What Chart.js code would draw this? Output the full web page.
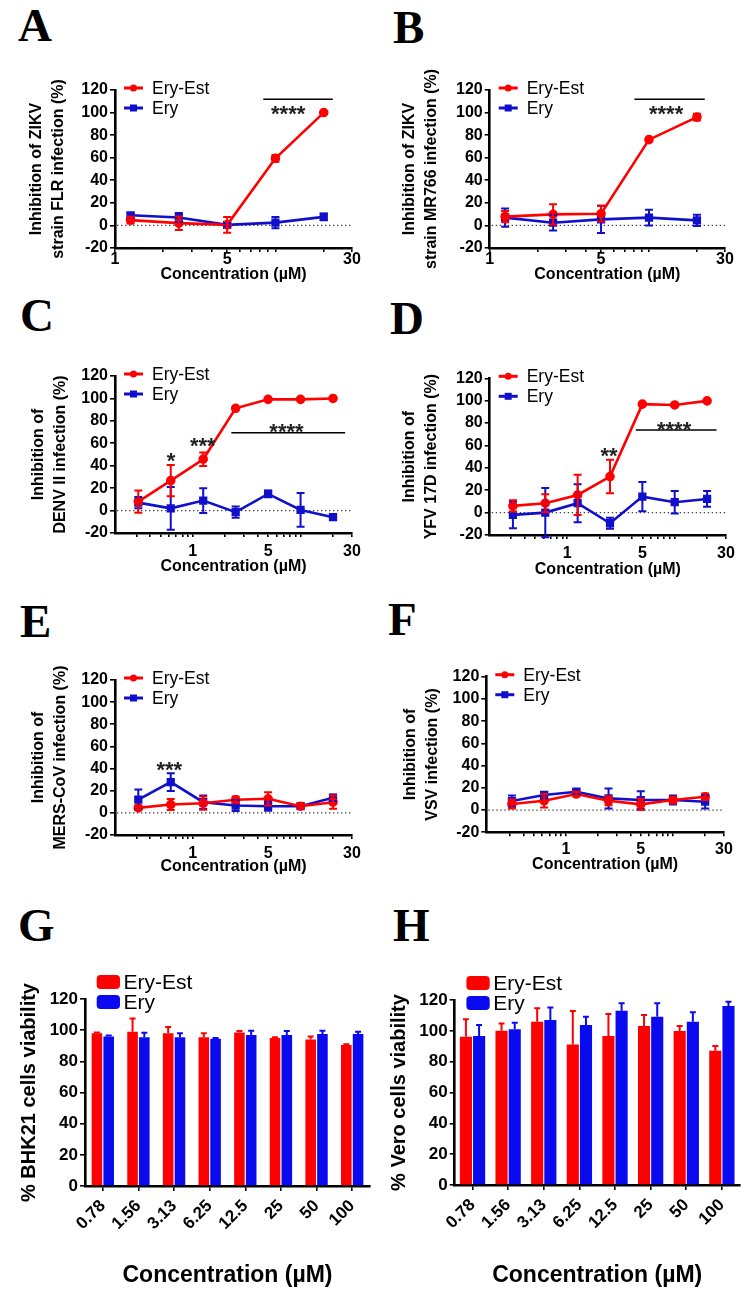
<!DOCTYPE html>
<html><head><meta charset="utf-8">
<script src="https://cdn.jsdelivr.net/npm/chart.js@4.4.0/dist/chart.umd.min.js"></script>
<style>
html,body{margin:0;padding:0;background:#fff;}
body{width:756px;height:1301px;position:relative;overflow:hidden;}
.cell{position:absolute;}
.letter{position:absolute;font-family:"Liberation Serif","Times New Roman",serif;font-weight:bold;font-size:47px;line-height:1;color:#000;}
</style></head><body>
<div class="letter" style="left:18px;top:2px">A</div>
<div class="letter" style="left:393px;top:4px">B</div>
<div class="letter" style="left:20px;top:292px">C</div>
<div class="letter" style="left:390px;top:295px">D</div>
<div class="letter" style="left:20px;top:598px">E</div>
<div class="letter" style="left:388px;top:596px">F</div>
<div class="letter" style="left:18px;top:902px">G</div>
<div class="letter" style="left:393px;top:902px">H</div>
<script>
// ---------- data ----------
const seriesNames = ['Ery-Est', 'Ery'];
const concAB = [1.25, 2.5, 5, 10, 20];
const concCF = [0.3125, 0.625, 1.25, 2.5, 5, 10, 20];
const xTicksAB = [1, 2, 3, 4, 5, 6, 7, 8, 9, 10, 20, 30];
const xTicksCF = [0.3, 0.4, 0.5, 0.6, 0.7, 0.8, 0.9, 1, 2, 3, 4, 5, 6, 7, 8, 9, 10, 20, 30];
const xLabelValues = [1, 5, 30];
const viabilityConc = ['0.78', '1.56', '3.13', '6.25', '12.5', '25', '50', '100'];

// A: ZIKV FLR
const zikvFlrEryEst = [4.7, 2.0, 0.5, 59.5, 100.0];
const zikvFlrEryEstSem = [3, 6, 7, 3, 0.8];
const zikvFlrEry = [9.0, 7.0, 0.5, 2.5, 7.6];
const zikvFlrErySem = [2, 4, 1.5, 5, 3];
// B: ZIKV MR766
const zikvMrEryEst = [7.8, 9.8, 10.4, 76.0, 96.0];
const zikvMrEryEstSem = [5, 9, 7, 1, 3];
const zikvMrEry = [6.9, 2.4, 5.4, 6.9, 4.5];
const zikvMrErySem = [8, 7, 12, 7, 5];
// C: DENV II
const denvEryEst = [8.0, 26.7, 45.8, 91.2, 99.2, 99.2, 100.0];
const denvEryEstSem = [10, 14, 6, 0.5, 0.5, 0.5, 0.5];
const denvEry = [7.1, 2.0, 8.9, -1.4, 14.9, 0.6, -5.9];
const denvErySem = [5, 19, 11, 5, 3, 15, 1];
// D: YFV 17D
const yfvEryEst = [6.0, 8.4, 15.8, 32.2, 96.9, 96.2, 99.8];
const yfvEryEstSem = [5, 8, 18, 15, 0.5, 0.5, 0.5];
const yfvEry = [-2.0, 0.0, 8.4, -9.5, 14.3, 9.3, 12.2];
const yfvErySem = [12, 22, 17, 5, 13, 10, 7];
// E: MERS-CoV
const mersEryEst = [4.5, 7.5, 8.7, 11.8, 12.7, 6.0, 9.6];
const mersEryEstSem = [2, 5, 6, 3, 6, 1, 6];
const mersEry = [12.0, 27.8, 9.6, 6.6, 6.0, 6.0, 13.6];
const mersErySem = [9, 8, 6, 5, 4, 1, 3];
// F: VSV
const vsvEryEst = [5.4, 8.4, 14.4, 8.4, 5.1, 9.0, 12.0];
const vsvEryEstSem = [4, 6, 2, 4, 5, 3, 3];
const vsvEry = [8.1, 13.5, 16.5, 10.5, 9.0, 9.0, 7.5];
const vsvErySem = [5, 3, 2, 9, 8, 4, 6];
// G: BHK21 viability
const bhkEryEst = [98, 99, 98, 95.4, 98.5, 95, 94, 90.5];
const bhkEryEstSem = [0.5, 8.5, 4, 2.6, 1, 0.5, 2, 0.5];
const bhkEry = [96, 95.4, 95.4, 94.5, 96.9, 96.9, 97.5, 97.5];
const bhkErySem = [0.5, 3, 2.6, 0.5, 2.7, 2.5, 2.1, 1.5];
// H: Vero viability
const veroEryEst = [96.2, 100, 105.9, 91.2, 96.6, 103.1, 99.9, 87.1];
const veroEryEstSem = [11.3, 4.8, 8.7, 21.7, 14.3, 7.2, 3.2, 3.1];
const veroEry = [96.6, 101, 107, 103.8, 113.1, 109.2, 105.9, 116.1];
const veroErySem = [7.2, 4.3, 8.2, 5.4, 4.8, 8.7, 6.1, 2.8];

// significance annotations: [x1, x2, y] lines and [x, y, text] stars (data units)
const sigLinesA = [[8.4, 22.8, 111.8]];
const starsA = [[12.0, 103.8, '****']];
const sigLinesB = [[8.1, 22.4, 111.8]];
const starsB = [[12.8, 103.8, '****']];
const sigLinesC = [[2.28, 25.9, 69.4]];
const starsC = [[7.4, 74.8, '****'], [1.24, 62.3, '***'], [0.63, 48.9, '*']];
const sigLinesD = [[4.34, 24.5, 73.8]];
const starsD = [[9.87, 79.2, '****'], [2.45, 55.9, '**']];
const starsE = [[0.605, 44.1, '***']];

// ---------- rendering ----------
Chart.defaults.font.family = "'Liberation Sans', Arial, Helvetica, sans-serif";
Chart.defaults.color = '#000';
const RED = '#ff0000', BLUE = '#1010cc', BLUE_BAR = '#0a0af0';

const extras = {
  id: 'extras',
  beforeDatasetsDraw(chart, args, o) {
    if (!o.zeroLine) return;
    const {ctx, chartArea: a} = chart;
    const y = chart.scales.y.getPixelForValue(0);
    ctx.save();
    ctx.strokeStyle = '#444'; ctx.lineWidth = 1.3; ctx.setLineDash([1.4, 2.6]);
    ctx.beginPath(); ctx.moveTo(a.left + 2, y); ctx.lineTo(a.right, y); ctx.stroke();
    ctx.restore();
  },
  afterDatasetsDraw(chart, args, o) {
    const ctx = chart.ctx, ys = chart.scales.y;
    ctx.save();
    for (let i = chart.data.datasets.length - 1; i >= 0; i--) {
      const ds = chart.data.datasets[i];
      const meta = chart.getDatasetMeta(i);
      ctx.strokeStyle = ds.borderColor || ds.backgroundColor;
      ctx.lineWidth = o.errWidth;
      meta.data.forEach((el, j) => {
        const raw = ds.data[j];
        const v = (typeof raw === 'object') ? raw.y : raw;
        const e = ds.err[j];
        const x = el.x;
        const yTop = ys.getPixelForValue(v + e);
        const yBot = o.upOnly ? ys.getPixelForValue(v) : ys.getPixelForValue(v - e);
        ctx.beginPath();
        ctx.moveTo(x, yTop); ctx.lineTo(x, yBot);
        ctx.moveTo(x - o.cap, yTop); ctx.lineTo(x + o.cap, yTop);
        if (!o.upOnly) { ctx.moveTo(x - o.cap, yBot); ctx.lineTo(x + o.cap, yBot); }
        ctx.stroke();
      });
    }
    ctx.restore();
  },
  afterDraw(chart, args, o) {
    const {ctx, chartArea: a} = chart;
    const xs = chart.scales.x, ys = chart.scales.y;
    ctx.save();
    // legend
    const g = o.legend;
    chart.data.datasets.forEach((ds, k) => {
      const color = ds.legendColor;
      const y = a.top + g.y[k];
      if (g.type === 'line') {
        ctx.strokeStyle = color; ctx.fillStyle = color; ctx.lineWidth = 3;
        ctx.beginPath(); ctx.moveTo(a.left + g.x0, y); ctx.lineTo(a.left + g.x1, y); ctx.stroke();
        const cx = a.left + (g.x0 + g.x1) / 2;
        if (ds.pointStyle === 'rect') { ctx.fillRect(cx - 3.5, y - 3.5, 7, 7); }
        else { ctx.beginPath(); ctx.arc(cx, y, 3.5, 0, Math.PI * 2); ctx.fill(); }
      } else {
        ctx.fillStyle = color;
        ctx.beginPath();
        ctx.roundRect(a.left + g.x0, y - g.h / 2, g.x1 - g.x0, g.h, 4);
        ctx.fill();
      }
      ctx.fillStyle = '#000';
      ctx.font = g.font;
      ctx.textAlign = 'left'; ctx.textBaseline = 'middle';
      ctx.fillText(ds.label, a.left + g.tx, y + 1);
    });
    // significance
    ctx.strokeStyle = '#000'; ctx.lineWidth = 1.5;
    (o.sigLines || []).forEach(([x1, x2, y]) => {
      const py = ys.getPixelForValue(y);
      ctx.beginPath(); ctx.moveTo(xs.getPixelForValue(x1), py); ctx.lineTo(xs.getPixelForValue(x2), py); ctx.stroke();
    });
    ctx.fillStyle = '#222';
    ctx.font = "bold 22px 'Liberation Sans', Arial, sans-serif";
    ctx.textAlign = 'center'; ctx.textBaseline = 'alphabetic';
    (o.stars || []).forEach(([x, y, t]) => {
      ctx.fillText(t, xs.getPixelForValue(x), ys.getPixelForValue(y) + 12.6);
    });
    ctx.restore();
  }
};

function makeCanvas(cell) {
  const d = document.createElement('div');
  d.className = 'cell';
  Object.assign(d.style, {left: cell.x + 'px', top: cell.y + 'px', width: cell.w + 'px', height: cell.h + 'px'});
  const c = document.createElement('canvas');
  c.width = cell.w; c.height = cell.h;
  c.style.width = cell.w + 'px'; c.style.height = cell.h + 'px';
  d.appendChild(c); document.body.appendChild(d);
  return c;
}

function axisCommon() {
  return {
    grid: {display: true, drawOnChartArea: false, drawTicks: true, tickLength: 5, color: '#000', lineWidth: 1.6},
    border: {display: true, color: '#000', width: 2.6}
  };
}

function linePanel(p) {
  const cv = makeCanvas(p.cell);
  const yW = p.area.L - p.cell.x;
  const xH = p.cell.y + p.cell.h - p.area.B;
  const yLH = 22;
  const mk = (vals) => p.conc.map((c, i) => ({x: c, y: vals[i]}));
  new Chart(cv, {
    type: 'line',
    data: {datasets: [
      {label: seriesNames[0], data: mk(p.red), err: p.redErr, borderColor: RED, backgroundColor: RED, legendColor: RED,
       borderWidth: 2.6, pointRadius: 3.5, pointStyle: 'circle', pointBackgroundColor: RED, pointBorderColor: RED, tension: 0},
      {label: seriesNames[1], data: mk(p.blue), err: p.blueErr, borderColor: BLUE, backgroundColor: BLUE, legendColor: BLUE,
       borderWidth: 2.6, pointRadius: 4, pointStyle: 'rect', pointBackgroundColor: BLUE, pointBorderColor: BLUE, tension: 0}
    ]},
    options: {
      responsive: false, animation: false, devicePixelRatio: 1,
      layout: {padding: {left: 0, top: p.area.T - p.cell.y, right: p.cell.x + p.cell.w - p.area.R, bottom: 0}},
      plugins: {
        legend: {display: false}, tooltip: {enabled: false},
        extras: {zeroLine: true, errWidth: 2, cap: 4, upOnly: false,
          legend: {type: 'line', x0: 9, x1: 28, tx: 37, y: [-2, 18], font: "17.5px 'Liberation Sans', Arial, sans-serif"},
          sigLines: p.sigLines, stars: p.stars}
      },
      scales: {
        x: Object.assign(axisCommon(), {
          type: 'logarithmic', min: p.xMin, max: p.xMax, position: 'bottom',
          afterBuildTicks: s => { s.ticks = p.xTicks.map(v => ({value: v})); },
          afterFit: s => { s.height = xH; },
          ticks: {autoSkip: false, maxRotation: 0, minRotation: 0, font: {size: 16, weight: 'bold', lineHeight: 1},
            padding: p.xTickY - p.area.B - 4 - 8,
            callback: v => xLabelValues.includes(v) ? String(v) : ''},
          grid: {display: true, drawOnChartArea: false, drawTicks: true, tickLength: 4, color: '#000', lineWidth: 1.6},
          title: {display: true, text: 'Concentration (µM)', font: {size: 16, weight: 'bold', lineHeight: 1.2},
            padding: {top: 0, bottom: p.cell.h - (p.xTitleY - p.cell.y) - 9.6}}
        }),
        y: Object.assign(axisCommon(), {
          type: 'linear', min: -20, max: 120, position: 'left',
          afterFit: s => { s.width = yW; },
          ticks: {stepSize: 20, autoSkip: false, font: {size: 16, weight: 'bold', lineHeight: 1}, padding: 2},
          title: {display: true, text: p.yTitle, font: {size: 16, weight: 'bold', lineHeight: yLH / 16},
            padding: {top: p.yTitleX - p.cell.x - yLH / 2, bottom: 0}}
        })
      }
    },
    plugins: [extras]
  });
}

function barPanel(p) {
  const cv = makeCanvas(p.cell);
  const yW = p.area.L - p.cell.x;
  const xH = p.cell.y + p.cell.h - p.area.B;
  new Chart(cv, {
    type: 'bar',
    data: {labels: viabilityConc, datasets: [
      {label: seriesNames[0], data: p.red, err: p.redErr, backgroundColor: RED, legendColor: RED, borderWidth: 0,
       barPercentage: p.barPct, categoryPercentage: p.catPct},
      {label: seriesNames[1], data: p.blue, err: p.blueErr, backgroundColor: BLUE_BAR, legendColor: BLUE_BAR, borderWidth: 0,
       barPercentage: p.barPct, categoryPercentage: p.catPct}
    ]},
    options: {
      responsive: false, animation: false, devicePixelRatio: 1,
      layout: {padding: {left: 0, top: p.area.T - p.cell.y, right: p.cell.x + p.cell.w - p.area.R, bottom: 0}},
      plugins: {
        legend: {display: false}, tooltip: {enabled: false},
        extras: {zeroLine: false, errWidth: 2, cap: 3, upOnly: true,
          legend: {type: 'box', x0: 11.7, x1: 35, h: 14, tx: 38.5, y: [-17, 3], font: "21px 'Liberation Sans', Arial, sans-serif"}}
      },
      scales: {
        x: Object.assign(axisCommon(), {
          type: 'category', position: 'bottom',
          afterFit: s => { s.height = xH; },
          ticks: {autoSkip: false, maxRotation: 45, minRotation: 45, font: {size: 17, weight: 'bold'}, padding: 5},
          grid: {display: true, offset: false, drawOnChartArea: false, drawTicks: true, tickLength: 5, color: '#000', lineWidth: 1.6},
          title: {display: true, text: 'Concentration (µM)', font: {size: 23, weight: 'bold', lineHeight: 1.2},
            padding: {top: 0, bottom: p.cell.h - (p.xTitleY - p.cell.y) - 13.8}}
        }),
        y: Object.assign(axisCommon(), {
          type: 'linear', min: 0, max: 120, position: 'left',
          afterFit: s => { s.width = yW; },
          ticks: {stepSize: 20, autoSkip: false, font: {size: 17, weight: 'bold'}, padding: 2},
          title: {display: true, text: p.yTitle, font: {size: 20, weight: 'bold', lineHeight: 1.2},
            padding: {top: p.yTitleX - p.cell.x - 12, bottom: 0}}
        })
      }
    },
    plugins: [extras]
  });
}

linePanel({cell: {x: 0, y: 50, w: 378, h: 240}, area: {L: 115, T: 90, R: 352, B: 248},
  xMin: 1, xMax: 30, xTicks: xTicksAB, conc: concAB, xTickY: 260, xTitleY: 275, yTitleX: 36.7,
  yTitle: ['Inhibition of ZIKV', 'strain FLR infection (%)'],
  red: zikvFlrEryEst, redErr: zikvFlrEryEstSem, blue: zikvFlrEry, blueErr: zikvFlrErySem,
  sigLines: sigLinesA, stars: starsA});
linePanel({cell: {x: 378, y: 50, w: 378, h: 240}, area: {L: 489.7, T: 90, R: 725, B: 248},
  xMin: 1, xMax: 30, xTicks: xTicksAB, conc: concAB, xTickY: 260, xTitleY: 275, yTitleX: 409.7,
  yTitle: ['Inhibition of ZIKV', 'strain MR766 infection (%)'],
  red: zikvMrEryEst, redErr: zikvMrEryEstSem, blue: zikvMrEry, blueErr: zikvMrErySem,
  sigLines: sigLinesB, stars: starsB});
linePanel({cell: {x: 0, y: 340, w: 378, h: 250}, area: {L: 115, T: 376, R: 352, B: 533},
  xMin: 0.19, xMax: 30, xTicks: xTicksCF, conc: concCF, xTickY: 551.7, xTitleY: 567, yTitleX: 38.3,
  yTitle: ['Inhibition of', 'DENV II infection (%)'],
  red: denvEryEst, redErr: denvEryEstSem, blue: denvEry, blueErr: denvErySem,
  sigLines: sigLinesC, stars: starsC});
linePanel({cell: {x: 378, y: 340, w: 378, h: 250}, area: {L: 489.7, T: 378.3, R: 726, B: 535},
  xMin: 0.19, xMax: 30, xTicks: xTicksCF, conc: concCF, xTickY: 553.3, xTitleY: 570, yTitleX: 409.7,
  yTitle: ['Inhibition of', 'YFV 17D infection (%)'],
  red: yfvEryEst, redErr: yfvEryEstSem, blue: yfvEry, blueErr: yfvErySem,
  sigLines: sigLinesD, stars: starsD});
linePanel({cell: {x: 0, y: 640, w: 378, h: 250}, area: {L: 115, T: 680, R: 352, B: 835},
  xMin: 0.19, xMax: 30, xTicks: xTicksCF, conc: concCF, xTickY: 853.3, xTitleY: 866.7, yTitleX: 38.3,
  yTitle: ['Inhibition of', 'MERS-CoV infection (%)'],
  red: mersEryEst, redErr: mersEryEstSem, blue: mersEry, blueErr: mersErySem,
  sigLines: [], stars: starsE});
linePanel({cell: {x: 378, y: 640, w: 378, h: 250}, area: {L: 486.3, T: 676.7, R: 724, B: 832.3},
  xMin: 0.18, xMax: 30, xTicks: xTicksCF, conc: concCF, xTickY: 850, xTitleY: 865, yTitleX: 410.2,
  yTitle: ['Inhibition of', 'VSV infection (%)'],
  red: vsvEryEst, redErr: vsvEryEstSem, blue: vsvEry, blueErr: vsvErySem,
  sigLines: [], stars: []});
barPanel({cell: {x: 0, y: 940, w: 378, h: 361}, area: {L: 85, T: 999, R: 370, B: 1186},
  xTitleY: 1276, yTitleX: 29, yTitle: '% BHK21 cells viability', catPct: 0.66, barPct: 0.9,
  red: bhkEryEst, redErr: bhkEryEstSem, blue: bhkEry, blueErr: bhkErySem});
barPanel({cell: {x: 378, y: 940, w: 378, h: 361}, area: {L: 454.7, T: 1000, R: 739.7, B: 1185},
  xTitleY: 1276, yTitleX: 399.7, yTitle: '% Vero cells viability', catPct: 0.74, barPct: 0.92,
  red: veroEryEst, redErr: veroEryEstSem, blue: veroEry, blueErr: veroErySem});
</script>
</body></html>
